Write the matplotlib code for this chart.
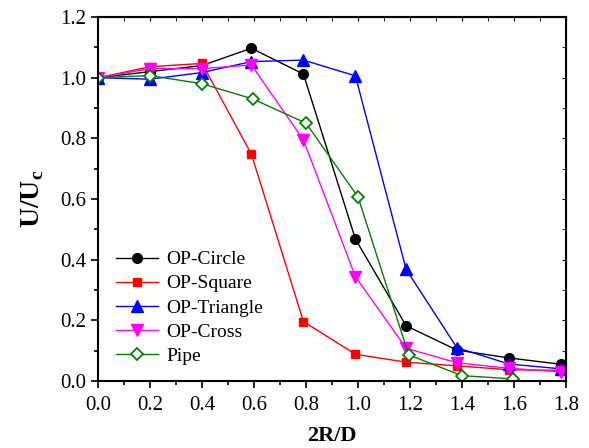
import matplotlib.pyplot as plt
from matplotlib.ticker import MultipleLocator

plt.rcParams['font.family'] = ['Liberation Serif', 'DejaVu Serif']
plt.rcParams['mathtext.fontset'] = 'custom'
plt.rcParams['mathtext.rm'] = 'Liberation Serif'
plt.rcParams['mathtext.bf'] = 'Liberation Serif:bold'

# 2R/D positions (markers sit a hair left of the nominal grid in the source)
x_op = [0.0, 0.2, 0.4, 0.59, 0.79, 0.99, 1.185, 1.38, 1.58, 1.78]
x_pipe = [0.0, 0.2, 0.4, 0.595, 0.8, 1.0, 1.195, 1.40, 1.595]

op_circle = [1.0, 1.02, 1.04, 1.097, 1.012, 0.468, 0.182, 0.102, 0.076, 0.055]
op_square = [1.0, 1.036, 1.047, 0.748, 0.196, 0.088, 0.062, 0.05, 0.037, 0.035]
op_triangle = [1.0, 0.995, 1.017, 1.053, 1.058, 1.006, 0.368, 0.11, 0.056, 0.04]
op_cross = [1.0, 1.03, 1.03, 1.042, 0.795, 0.344, 0.108, 0.06, 0.042, 0.03]
pipe = [1.0, 1.007, 0.98, 0.93, 0.85, 0.607, 0.086, 0.0175, 0.007]

fig = plt.figure(figsize=(5.89, 4.48), dpi=100)
ax = fig.add_axes([0.1664, 0.1496, 0.7946, 0.8124])

ax.plot(x_op, op_circle, '-o', color='black', lw=1, ms=7, label='OP-Circle')
ax.plot(x_op, op_square, '-s', color='red', lw=1, ms=6, label='OP-Square')
ax.plot(x_op, op_triangle, '-^', color='blue', lw=1, ms=8, label='OP-Triangle')
ax.plot(x_op, op_cross, '-v', color='magenta', lw=1, ms=8, label='OP-Cross')
ax.plot(x_pipe, pipe, '-D', color='green', lw=1, ms=6, mfc='white', mew=1.3,
        label='Pipe')

ax.set_xlim(0, 1.8)
ax.set_ylim(0, 1.2)
ax.xaxis.set_major_locator(MultipleLocator(0.2))
ax.xaxis.set_minor_locator(MultipleLocator(0.1))
ax.yaxis.set_major_locator(MultipleLocator(0.2))
ax.yaxis.set_minor_locator(MultipleLocator(0.1))
ax.xaxis.set_major_formatter(plt.FuncFormatter(lambda v, p: f'{v:.1f}'))
ax.yaxis.set_major_formatter(plt.FuncFormatter(lambda v, p: f'{v:.1f}'))

ax.tick_params(which='both', direction='out', top=False, right=False,
               labelsize=15, width=1.2)
ax.tick_params(which='major', length=5)
ax.tick_params(which='minor', length=3)
ax.tick_params(axis='x', which='major', pad=6)
for s in ax.spines.values():
    s.set_linewidth(1.5)

# inward ticks on the top and right frame
sec_x = ax.secondary_xaxis('top')
sec_x.xaxis.set_major_locator(MultipleLocator(0.2))
sec_x.xaxis.set_minor_locator(MultipleLocator(0.1))
sec_x.tick_params(which='both', direction='in', length=3, labeltop=False)
sec_y = ax.secondary_yaxis('right')
sec_y.yaxis.set_major_locator(MultipleLocator(0.2))
sec_y.yaxis.set_minor_locator(MultipleLocator(0.1))
sec_y.tick_params(which='both', direction='in', length=3, labelright=False)

ax.set_xlabel('2R/D', fontsize=16, fontweight='bold', labelpad=8)
ax.set_ylabel(r'U/U$_\mathbf{c}$', fontsize=20, fontweight='bold', labelpad=10)

ax.legend(loc='lower left', bbox_to_anchor=(0.0, -0.003), frameon=False,
          fontsize=14, handlelength=2.2, handletextpad=0.4, labelspacing=0.33)

fig.savefig('out.png', dpi=100)
